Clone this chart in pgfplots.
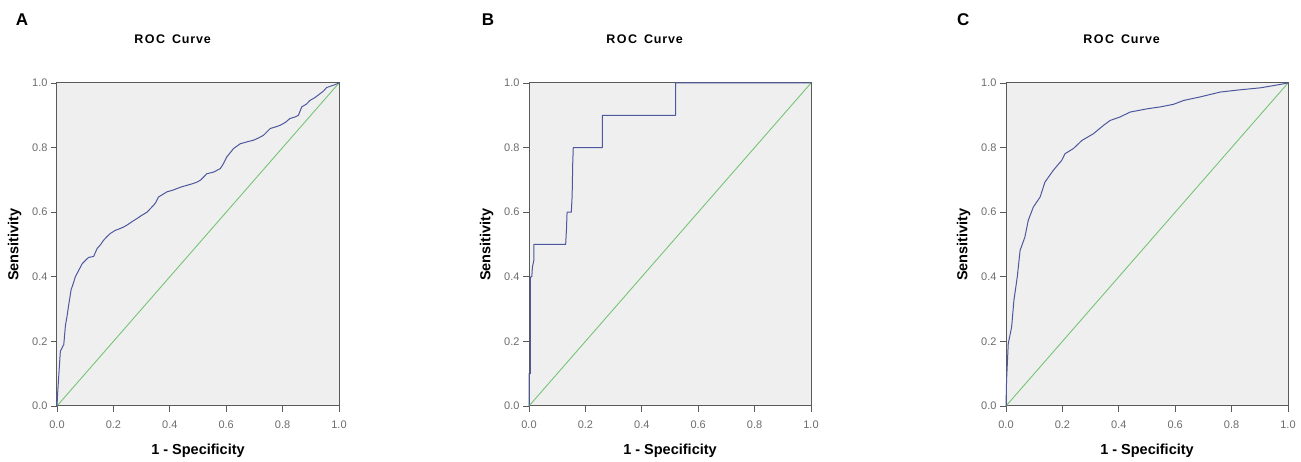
\documentclass[border=0pt]{standalone}
\usepackage{pgfplots}
\pgfplotsset{compat=1.18}
\usepackage{fontspec}
\setmainfont{Liberation Sans}
\definecolor{rocblue}{RGB}{78,88,158}
\definecolor{refgreen}{RGB}{118,196,118}
\definecolor{panelbg}{RGB}{239,239,239}
\definecolor{frame}{RGB}{90,90,90}
\pgfplotsset{
  rocax/.style={
    scale only axis,width=282pt,height=323pt,anchor=south west,
    xmin=0,xmax=1,ymin=0,ymax=1,
    xtick={0,0.2,0.4,0.6,0.8,1},ytick={0,0.2,0.4,0.6,0.8,1},
    /pgf/number format/assume math mode=true,
    /pgf/number format/fixed,/pgf/number format/fixed zerofill,/pgf/number format/precision=1,
    tick label style={font=\fontsize{11}{13}\selectfont,text=gray!85!black},
    x tick label style={yshift=-5pt},
    tick pos=left,tick align=outside,major tick length=6pt,
    every tick/.style={draw=frame,line width=0.8pt},
    axis line style={draw=frame,line width=1pt},
    axis background/.style={fill=panelbg},
    xlabel={\bfseries 1 - Specificity},ylabel={\bfseries Sensitivity},
    label style={font=\fontsize{14.5}{16}\selectfont},
    xlabel style={yshift=-9pt},
    ylabel style={yshift=4pt},
    title={\bfseries R\kern1.5pt O\kern1.5pt C\ \ C\kern0.8pt u\kern0.8pt r\kern0.8pt v\kern0.8pt e},
    title style={font=\fontsize{12.5}{14}\selectfont,at={(rel axis cs:0.41,1)},anchor=center,yshift=38pt},
    clip=false,
  },
  diag/.style={refgreen,line width=0.9pt},
  roc/.style={rocblue,line width=1pt,line join=round},
}
\begin{document}
\begin{tikzpicture}[x=1pt,y=1pt]
\path[use as bounding box] (0,0) rectangle (1301,462);
% panel A
\begin{axis}[rocax,at={(57pt,56pt)}]
\addplot[diag] coordinates {(0,0) (1,1)};
\addplot[roc] coordinates {
(0,0) (0.003,0.05) (0.006,0.09) (0.009,0.13) (0.012,0.17) (0.018,0.18) (0.024,0.19)
(0.03,0.25) (0.036,0.28) (0.041,0.31) (0.05,0.36) (0.058,0.38) (0.065,0.40)
(0.077,0.42) (0.089,0.44) (0.1,0.45) (0.112,0.46) (0.13,0.463) (0.142,0.487)
(0.155,0.5) (0.165,0.513) (0.178,0.525) (0.189,0.534) (0.207,0.544) (0.22,0.548)
(0.236,0.554) (0.248,0.56) (0.26,0.567) (0.272,0.574) (0.283,0.58) (0.3,0.59)
(0.319,0.60) (0.33,0.61) (0.342,0.621) (0.35,0.63) (0.36,0.647) (0.375,0.655)
(0.39,0.663) (0.41,0.668) (0.425,0.673) (0.44,0.678) (0.46,0.683) (0.48,0.688)
(0.496,0.693) (0.51,0.70) (0.531,0.719) (0.555,0.724) (0.579,0.735) (0.59,0.75)
(0.602,0.771) (0.615,0.785) (0.626,0.797) (0.65,0.812) (0.675,0.818) (0.697,0.823)
(0.715,0.83) (0.732,0.838) (0.756,0.859) (0.775,0.864) (0.791,0.869) (0.81,0.878)
(0.826,0.89) (0.845,0.895) (0.856,0.9) (0.868,0.926) (0.885,0.935) (0.897,0.946)
(0.915,0.955) (0.933,0.967) (0.945,0.975) (0.956,0.986) (0.98,0.993) (1,1)};
\node[font=\bfseries\fontsize{17}{19}\selectfont] at (rel axis cs:-0.124,1.195) {A};
\end{axis}
% panel B
\begin{axis}[rocax,at={(529pt,56pt)}]
\addplot[diag] coordinates {(0,0) (1,1)};
\addplot[roc] coordinates {
(0,0) (0,0.1) (0.005,0.1) (0.005,0.4) (0.01,0.4) (0.012,0.43) (0.017,0.45)
(0.017,0.5) (0.13,0.5) (0.133,0.55) (0.135,0.6) (0.15,0.6) (0.153,0.65)
(0.155,0.75) (0.157,0.8) (0.26,0.8) (0.26,0.9) (0.52,0.9) (0.52,1) (1,1)};
\node[font=\bfseries\fontsize{17}{19}\selectfont] at (rel axis cs:-0.145,1.195) {B};
\end{axis}
% panel C
\begin{axis}[rocax,at={(1006pt,56pt)}]
\addplot[diag] coordinates {(0,0) (1,1)};
\addplot[roc] coordinates {
(0,0) (0.002,0.08) (0.008,0.193) (0.02,0.245) (0.028,0.327) (0.04,0.4)
(0.05,0.482) (0.067,0.523) (0.079,0.575) (0.097,0.616) (0.121,0.647)
(0.138,0.693) (0.168,0.73) (0.198,0.761) (0.209,0.781) (0.239,0.797)
(0.269,0.822) (0.31,0.843) (0.346,0.869) (0.369,0.884) (0.405,0.895)
(0.44,0.91) (0.5,0.92) (0.547,0.926) (0.594,0.934) (0.63,0.946) (0.689,0.957)
(0.76,0.972) (0.831,0.979) (0.902,0.985) (0.949,0.992) (1,1)};
\node[font=\bfseries\fontsize{17}{19}\selectfont] at (rel axis cs:-0.152,1.195) {C};
\end{axis}
\end{tikzpicture}
\end{document}
